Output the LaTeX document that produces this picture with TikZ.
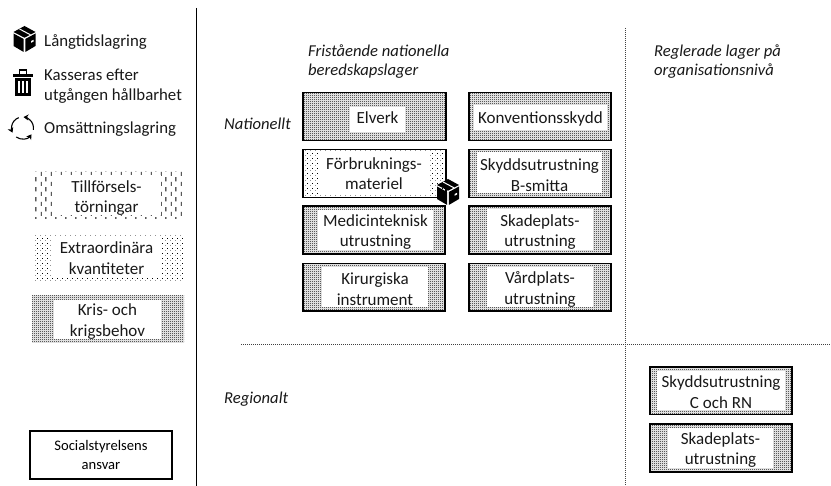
\documentclass[tikz,border=0pt]{standalone}
\usepackage{fontspec}
\setmainfont{Carlito}
\usetikzlibrary{patterns,calc,arrows.meta}
\pgfdeclarepatternformonly{krisp}{\pgfpoint{0pt}{0pt}}{\pgfpoint{2pt}{2pt}}{\pgfpoint{2pt}{2pt}}{%
  \pgfpathrectangle{\pgfpoint{0pt}{0pt}}{\pgfpoint{1pt}{1pt}}%
  \pgfpathrectangle{\pgfpoint{1pt}{1pt}}{\pgfpoint{1pt}{1pt}}%
  \pgfusepath{fill}}
\pgfdeclarepatternformonly{extrap}{\pgfpoint{0pt}{0pt}}{\pgfpoint{5pt}{5pt}}{\pgfpoint{5pt}{5pt}}{%
  \pgfpathrectangle{\pgfpoint{0pt}{0pt}}{\pgfpoint{.8pt}{.8pt}}%
  \pgfpathrectangle{\pgfpoint{2.5pt}{2.5pt}}{\pgfpoint{.8pt}{.8pt}}%
  \pgfusepath{fill}}
\pgfdeclarepatternformonly{tillp}{\pgfpoint{0pt}{0pt}}{\pgfpoint{10pt}{10pt}}{\pgfpoint{10pt}{10pt}}{%
  \pgfpathrectangle{\pgfpoint{1pt}{0pt}}{\pgfpoint{.9pt}{4.5pt}}%
  \pgfpathrectangle{\pgfpoint{6pt}{5pt}}{\pgfpoint{.9pt}{4.5pt}}%
  \pgfusepath{fill}}
\tikzset{
  lbl/.style={inner sep=0pt,align=center,font=\fontsize{17}{20.5}\selectfont,text=black!90},
  lefttxt/.style={inner sep=0pt,anchor=west,align=left,font=\fontsize{16.8}{20}\selectfont,text=black!90},
  headtxt/.style={inner sep=0pt,anchor=west,align=left,font=\itshape\fontsize{16.6}{19}\selectfont,text=black!90},
  frame/.style={draw=black,line width=1.3pt},
  axis/.style={draw=black,line width=.9pt},
  grid dots/.style={draw=black!75,line width=.9pt,dash pattern=on 1pt off 1pt}
}
% #1,#2 outer corners; #3,#4 white corners; #5 pattern; #6 frame; #7 name; #8 text shift down; #9 text
\newcommand{\hatchbox}[9]{%
  \fill[white] (#1) rectangle (#2);
  \fill[pattern=#5] (#1) rectangle (#2);
  \fill[white] (#3) rectangle (#4);
  \draw[#6] (#1) rectangle (#2);
  \node[lbl,yshift=-#8pt] (#7) at ($(#3)!.5!(#4)$) {#9};
}
\newcommand{\boxicon}[3]{%
  \begin{scope}[shift={(#1,#2)},scale=#3]
    \fill[black] (-11,-5.5) -- (-.8,0) -- (-.8,13) -- (-11,7) -- cycle;
    \fill[black] (11,-5.5) -- (.8,0) -- (.8,13) -- (11,7) -- cycle;
    \fill[black] (0,-13) -- (11,-7) -- (0,-1.3) -- (-11,-7) -- cycle;
    \draw[white,line width=1pt] (-5,-10) -- (6,-4.2);
    \fill[white] (6.5,2) -- (9,.8) -- (9,2.6) -- (6.5,3.8) -- cycle;
  \end{scope}}
\begin{document}
\begin{tikzpicture}[x=1pt,y=-1pt]
\useasboundingbox (0,0) rectangle (831,486);
\fill[white] (0,0) rectangle (831,486);
\coordinate (vtop) at (196,8); \coordinate (vbot) at (196,486);
\draw[axis] (vtop) -- (vbot);
\coordinate (ha) at (241,344); \coordinate (hb) at (831,344);
\draw[grid dots] (ha) -- (hb);
\coordinate (va) at (625,28); \coordinate (vb) at (625,486);
\draw[grid dots] (va) -- (vb);
\boxicon{24.5}{39}{1}
\begin{scope}[shift={(23,83)}]
  \fill[black] (-10,-8.5) rectangle (10,-6);
  \fill[black] (-4,-13.5) rectangle (4,-11.8);
  \fill[black] (-4,-13.5) rectangle (-2.6,-8);
  \fill[black] (2.6,-13.5) rectangle (4,-8);
  \fill[black] (-8,-4.5) rectangle (8,13);
  \fill[white] (-5.2,-2) rectangle (-3.4,10);
  \fill[white] (-1,-2) rectangle (1,10);
  \fill[white] (3.4,-2) rectangle (5.2,10);
\end{scope}
\begin{scope}[shift={(22.5,128)},line width=1.1pt,>={Stealth[length=5pt,width=6pt]}]
  \draw[->] (125:11) arc[start angle=125,end angle=35,radius=11];
  \draw[->] (10:11) arc[start angle=10,end angle=-85,radius=11];
  \draw[->] (-110:11) arc[start angle=-110,end angle=-205,radius=11];
\end{scope}
\node[lefttxt] (l1) at (44,42) {Långtidslagring};
\node[lefttxt] (l2) at (44,86.5) {Kasseras efter\\utgången hållbarhet};
\node[lefttxt] (l3) at (44,129) {Omsättningslagring};
\hatchbox{33,172}{184,219}{52,175}{161,215}{tillp}{draw=none}{lga}{3}{Tillförsels-\\törningar}
\hatchbox{33,235}{184,282}{52,238}{161,278}{extrap}{draw=none}{lgb}{0}{Extraordinära\\kvantiteter}
\hatchbox{32,296}{184,343}{54,300}{161,339}{krisp}{draw=none}{lgc}{2}{Kris- och\\krigsbehov}
\node[draw=black,line width=1.2pt,minimum width=142pt,minimum height=48pt,inner sep=0pt,align=center,font=\fontsize{14.6}{19}\selectfont] (soc) at (101,455) {Socialstyrelsens\\ansvar};
\node[headtxt] (h1) at (308,62) {Fristående nationella\\beredskapslager};
\node[headtxt] (h2) at (654,62) {Reglerade lager på\\organisationsnivå};
\node[headtxt] (h3) at (224,124) {Nationellt};
\node[headtxt] (h4) at (224,399) {Regionalt};
\hatchbox{303,92.5}{446,140.5}{350,107}{405,132}{krisp}{frame}{b1}{-1.5}{Elverk}
\hatchbox{303,149.5}{446,197.5}{320,153}{428,194}{extrap}{frame}{b2}{0}{Förbruknings-\\materiel}
\hatchbox{303,206}{445,254}{318,210}{433,250}{krisp}{frame}{b3}{2}{Medicinteknisk\\utrustning}
\hatchbox{303,263.5}{445,311}{322,267}{428,307.5}{krisp}{frame}{b4}{2}{Kirurgiska\\instrument}
\hatchbox{469,92.5}{611,140.5}{474,105}{607,130}{krisp}{frame}{b5}{1}{Konventionsskydd}
\hatchbox{469,149.5}{611,197.5}{477,152.5}{602,193.5}{krisp}{frame}{b6}{2}{Skyddsutrustning\\B-smitta}
\hatchbox{469,206}{611,254}{487,209.5}{593,250.5}{krisp}{frame}{b7}{2}{Skadeplats-\\utrustning}
\hatchbox{469,263.5}{611,311}{487,267}{593,307.5}{krisp}{frame}{b8}{2}{Vårdplats-\\utrustning}
\hatchbox{650,367}{792,414.5}{657,371.5}{785,410.5}{krisp}{frame}{b9}{1}{Skyddsutrustning\\C och RN}
\hatchbox{650,424}{792,472}{668,428}{773,468.5}{krisp}{frame}{b10}{2}{Skadeplats-\\utrustning}
\boxicon{448}{192}{1}
\end{tikzpicture}
\end{document}
